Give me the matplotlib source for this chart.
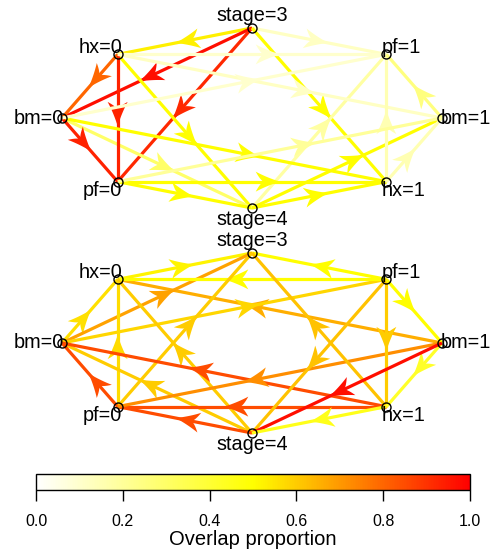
import numpy as np
import matplotlib
matplotlib.use("Agg")
import matplotlib.pyplot as plt
from matplotlib.colors import LinearSegmentedColormap, Normalize
from matplotlib.cm import ScalarMappable
from matplotlib.patches import Polygon

plt.rcParams['font.family'] = ['Liberation Sans', 'DejaVu Sans']

# nodes in counter-clockwise order starting on the right
node_names = ["bm=1", "pf=1", "stage=3", "hx=0", "bm=0", "pf=0", "stage=4", "hx=1"]

# (from, to, overlap proportion)
top_edges = [
    ("stage=3", "hx=0", 0.53),
    ("stage=3", "bm=0", 0.97),
    ("stage=3", "pf=0", 0.92),
    ("stage=3", "pf=1", 0.12),
    ("stage=3", "hx=1", 0.50),
    ("hx=0", "stage=4", 0.50),
    ("bm=0", "stage=4", 0.30),
    ("pf=0", "stage=4", 0.50),
    ("stage=4", "pf=1", 0.18),
    ("stage=4", "bm=1", 0.50),
    ("stage=4", "hx=1", 0.50),
    ("hx=0", "bm=0", 0.80),
    ("hx=0", "pf=0", 0.93),
    ("hx=0", "pf=1", 0.10),
    ("hx=0", "bm=1", 0.12),
    ("bm=0", "hx=1", 0.50),
    ("pf=0", "hx=1", 0.50),
    ("hx=1", "pf=1", 0.15),
    ("hx=1", "bm=1", 0.15),
    ("bm=0", "pf=0", 0.93),
    ("bm=0", "pf=1", 0.10),
    ("bm=1", "pf=1", 0.25),
    ("pf=0", "bm=1", 0.20),
]

bottom_edges = [
    ("hx=0", "stage=3", 0.52),
    ("bm=0", "hx=0", 0.56),
    ("bm=1", "hx=0", 0.66),
    ("bm=0", "stage=3", 0.68),
    ("bm=0", "pf=1", 0.58),
    ("pf=1", "hx=0", 0.50),
    ("pf=0", "stage=3", 0.60),
    ("pf=0", "hx=0", 0.57),
    ("stage=4", "bm=0", 0.60),
    ("stage=4", "hx=0", 0.60),
    ("hx=1", "bm=0", 0.85),
    ("hx=1", "pf=0", 0.85),
    ("stage=4", "pf=0", 0.85),
    ("pf=0", "bm=0", 0.85),
    ("bm=1", "pf=0", 0.72),
    ("pf=1", "stage=3", 0.50),
    ("hx=1", "stage=3", 0.62),
    ("pf=1", "stage=4", 0.62),
    ("pf=1", "hx=1", 0.60),
    ("pf=1", "bm=1", 0.50),
    ("bm=1", "hx=1", 0.42),
    ("bm=1", "stage=4", 0.97),
    ("hx=1", "stage=4", 0.45),
]

cbar_ticks = [0.0, 0.2, 0.4, 0.6, 0.8, 1.0]
cbar_label = "Overlap proportion"

W, H = 496, 553
fig = plt.figure(figsize=(W / 100, H / 100), dpi=100)
ax = fig.add_axes([0, 0, 1, 1])
ax.set_xlim(0, W)
ax.set_ylim(H, 0)
ax.axis('off')

cmap = LinearSegmentedColormap.from_list('overlap', ['white', 'yellow', 'red'])
norm = Normalize(0, 1)


def layout(cx, cy, rx=190, ry=90):
    pos = {}
    for i, name in enumerate(node_names):
        a = np.deg2rad(45 * i)
        pos[name] = (cx + rx * np.cos(a), cy - ry * np.sin(a), np.cos(a), np.sin(a))
    return pos


def bezier(p0, c, p1, n=12):
    t = np.linspace(0, 1, n)[:, None]
    return (1 - t) ** 2 * p0 + 2 * (1 - t) * t * c + t ** 2 * p1


def arrow_head(tip, u, length=24, half=10):
    # swept head with curved sides, built along +x then rotated onto u
    p0 = np.array([0.0, 0.0])
    barb = np.array([-length, half])
    notch = np.array([-0.68 * length, 0.0])
    side = bezier(p0, np.array([-0.55 * length, 0.42 * half]), barb)
    back = bezier(barb, np.array([-0.82 * length, 0.2 * half]), notch)
    upper = np.vstack([side, back[1:]])
    lower = (upper[::-1] * [1, -1])[1:]
    pts = np.vstack([upper, lower])
    n = np.array([-u[1], u[0]])
    return tip + pts[:, :1] * u + pts[:, 1:] * n


def draw_graph(edges, cx, cy):
    pos = layout(cx, cy)
    for k, (src, dst, val) in enumerate(edges):
        x0, y0 = pos[src][:2]
        x1, y1 = pos[dst][:2]
        col = cmap(norm(val))
        z = 1 + k * 0.01
        ax.plot([x0, x1], [y0, y1], color=col, lw=2.3, solid_capstyle='butt', zorder=z)
        d = np.array([x1 - x0, y1 - y0])
        L = np.hypot(*d)
        u = d / L
        tip = np.array([x0, y0]) + u * (L / 2 + 2 + max(0.0, 0.14 * (L - 85)))
        ax.add_patch(Polygon(arrow_head(tip, u), closed=True, fc=col, ec='none', zorder=z))

    for name, (x, y, c, s) in pos.items():
        ax.plot(x, y, marker='o', ms=6.5, mfc='none', mec='black', mew=1.0, zorder=5)
        if abs(s) < 0.3:
            ha = 'right' if c < 0 else 'left'
            tx, ty, va = x - np.sign(c) * 1.5, y, 'center'
        elif abs(c) < 0.3:
            ha = 'center'
            tx = x
            ty, va = (y - 3, 'bottom') if s > 0 else (y + 2, 'top')
        else:
            ha = 'right' if c < 0 else 'left'
            tx = x - np.sign(c) * 4.5
            ty, va = (y - 1.5, 'baseline') if s > 0 else (y - 0.5, 'top')
        ax.text(tx, ty, name, ha=ha, va=va, fontsize=14.3, zorder=6)


draw_graph(top_edges, 252, 118)
draw_graph(bottom_edges, 252, 343)

cax = fig.add_axes([36 / W, 1 - 490 / H, (470 - 36) / W, 16 / H])
cb = fig.colorbar(ScalarMappable(norm=norm, cmap=cmap), cax=cax,
                  orientation='horizontal', ticks=cbar_ticks, format='%.1f')
cb.outline.set_linewidth(1.0)
cax.tick_params(length=8, width=1, pad=9, labelsize=11.5)
cb.set_label(cbar_label, fontsize=14.5, labelpad=1)

fig.savefig("out.png", dpi=100)
